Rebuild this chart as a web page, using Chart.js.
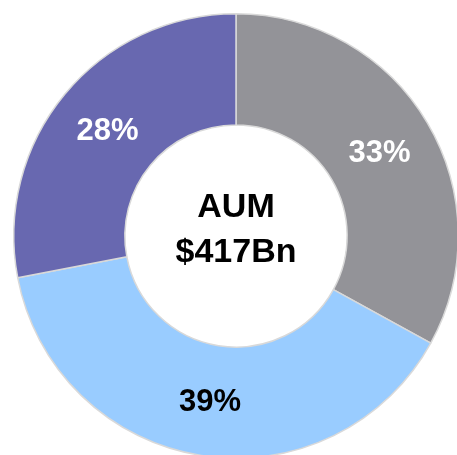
<!DOCTYPE html>
<html>
<head>
<meta charset="utf-8">
<script src="https://cdn.jsdelivr.net/npm/chart.js@4.4.0/dist/chart.umd.min.js"></script>
<style>
  html, body { margin: 0; padding: 0; background: #fff; overflow: hidden; width: 457px; height: 455px; }
  #wrap { position: absolute; left: 0; top: 0; width: 472px; height: 472px; }
</style>
</head>
<body>
<div id="wrap"><canvas id="aumChart" width="472" height="472"></canvas></div>
<script>
const categories = ['Segment A', 'Segment B', 'Segment C'];
const shares = [33, 39, 28];
const sliceColors = ['#939398', '#99CCFF', '#6868B0'];
const labelColors = ['#ffffff', '#000000', '#ffffff'];
const centerLines = ['AUM', '$417Bn'];

const FONT = '"Liberation Sans", Arial, sans-serif';

const sliceLabels = {
    id: 'sliceLabels',
    afterDatasetsDraw(chart) {
        const ctx = chart.ctx;
        const meta = chart.getDatasetMeta(0);
        ctx.save();
        ctx.font = 'bold 31px ' + FONT;
        ctx.textAlign = 'center';
        ctx.textBaseline = 'middle';
        meta.data.forEach(function(arc, i) {
            const pos = arc.tooltipPosition();
            ctx.fillStyle = labelColors[i];
            ctx.fillText(shares[i] + '%', pos.x, pos.y + 2);
        });

        // centre text
        const cx = meta.data[0].x;
        const cy = meta.data[0].y;
        ctx.fillStyle = '#000000';
        ctx.font = 'bold 34px ' + FONT;
        ctx.fillText(centerLines[0], cx, cy - 28);
        ctx.fillText(centerLines[1], cx, cy + 17);
        ctx.restore();
    }
};

window.onload = function() {
    const ctx = document.getElementById('aumChart').getContext('2d');

    const data = {
        labels: categories,
        datasets: [{
            data: shares,
            backgroundColor: sliceColors,
            borderColor: '#d9d9d9',
            borderWidth: 1.5
        }]
    };

    const options = {
        responsive: false,
        animation: false,
        cutout: '50%',
        layout: { padding: 13 },
        plugins: {
            legend: { display: false },
            tooltip: { enabled: false }
        }
    };

    new Chart(ctx, {
        type: 'doughnut',
        data: data,
        options: options,
        plugins: [sliceLabels]
    });
};
</script>
</body>
</html>
